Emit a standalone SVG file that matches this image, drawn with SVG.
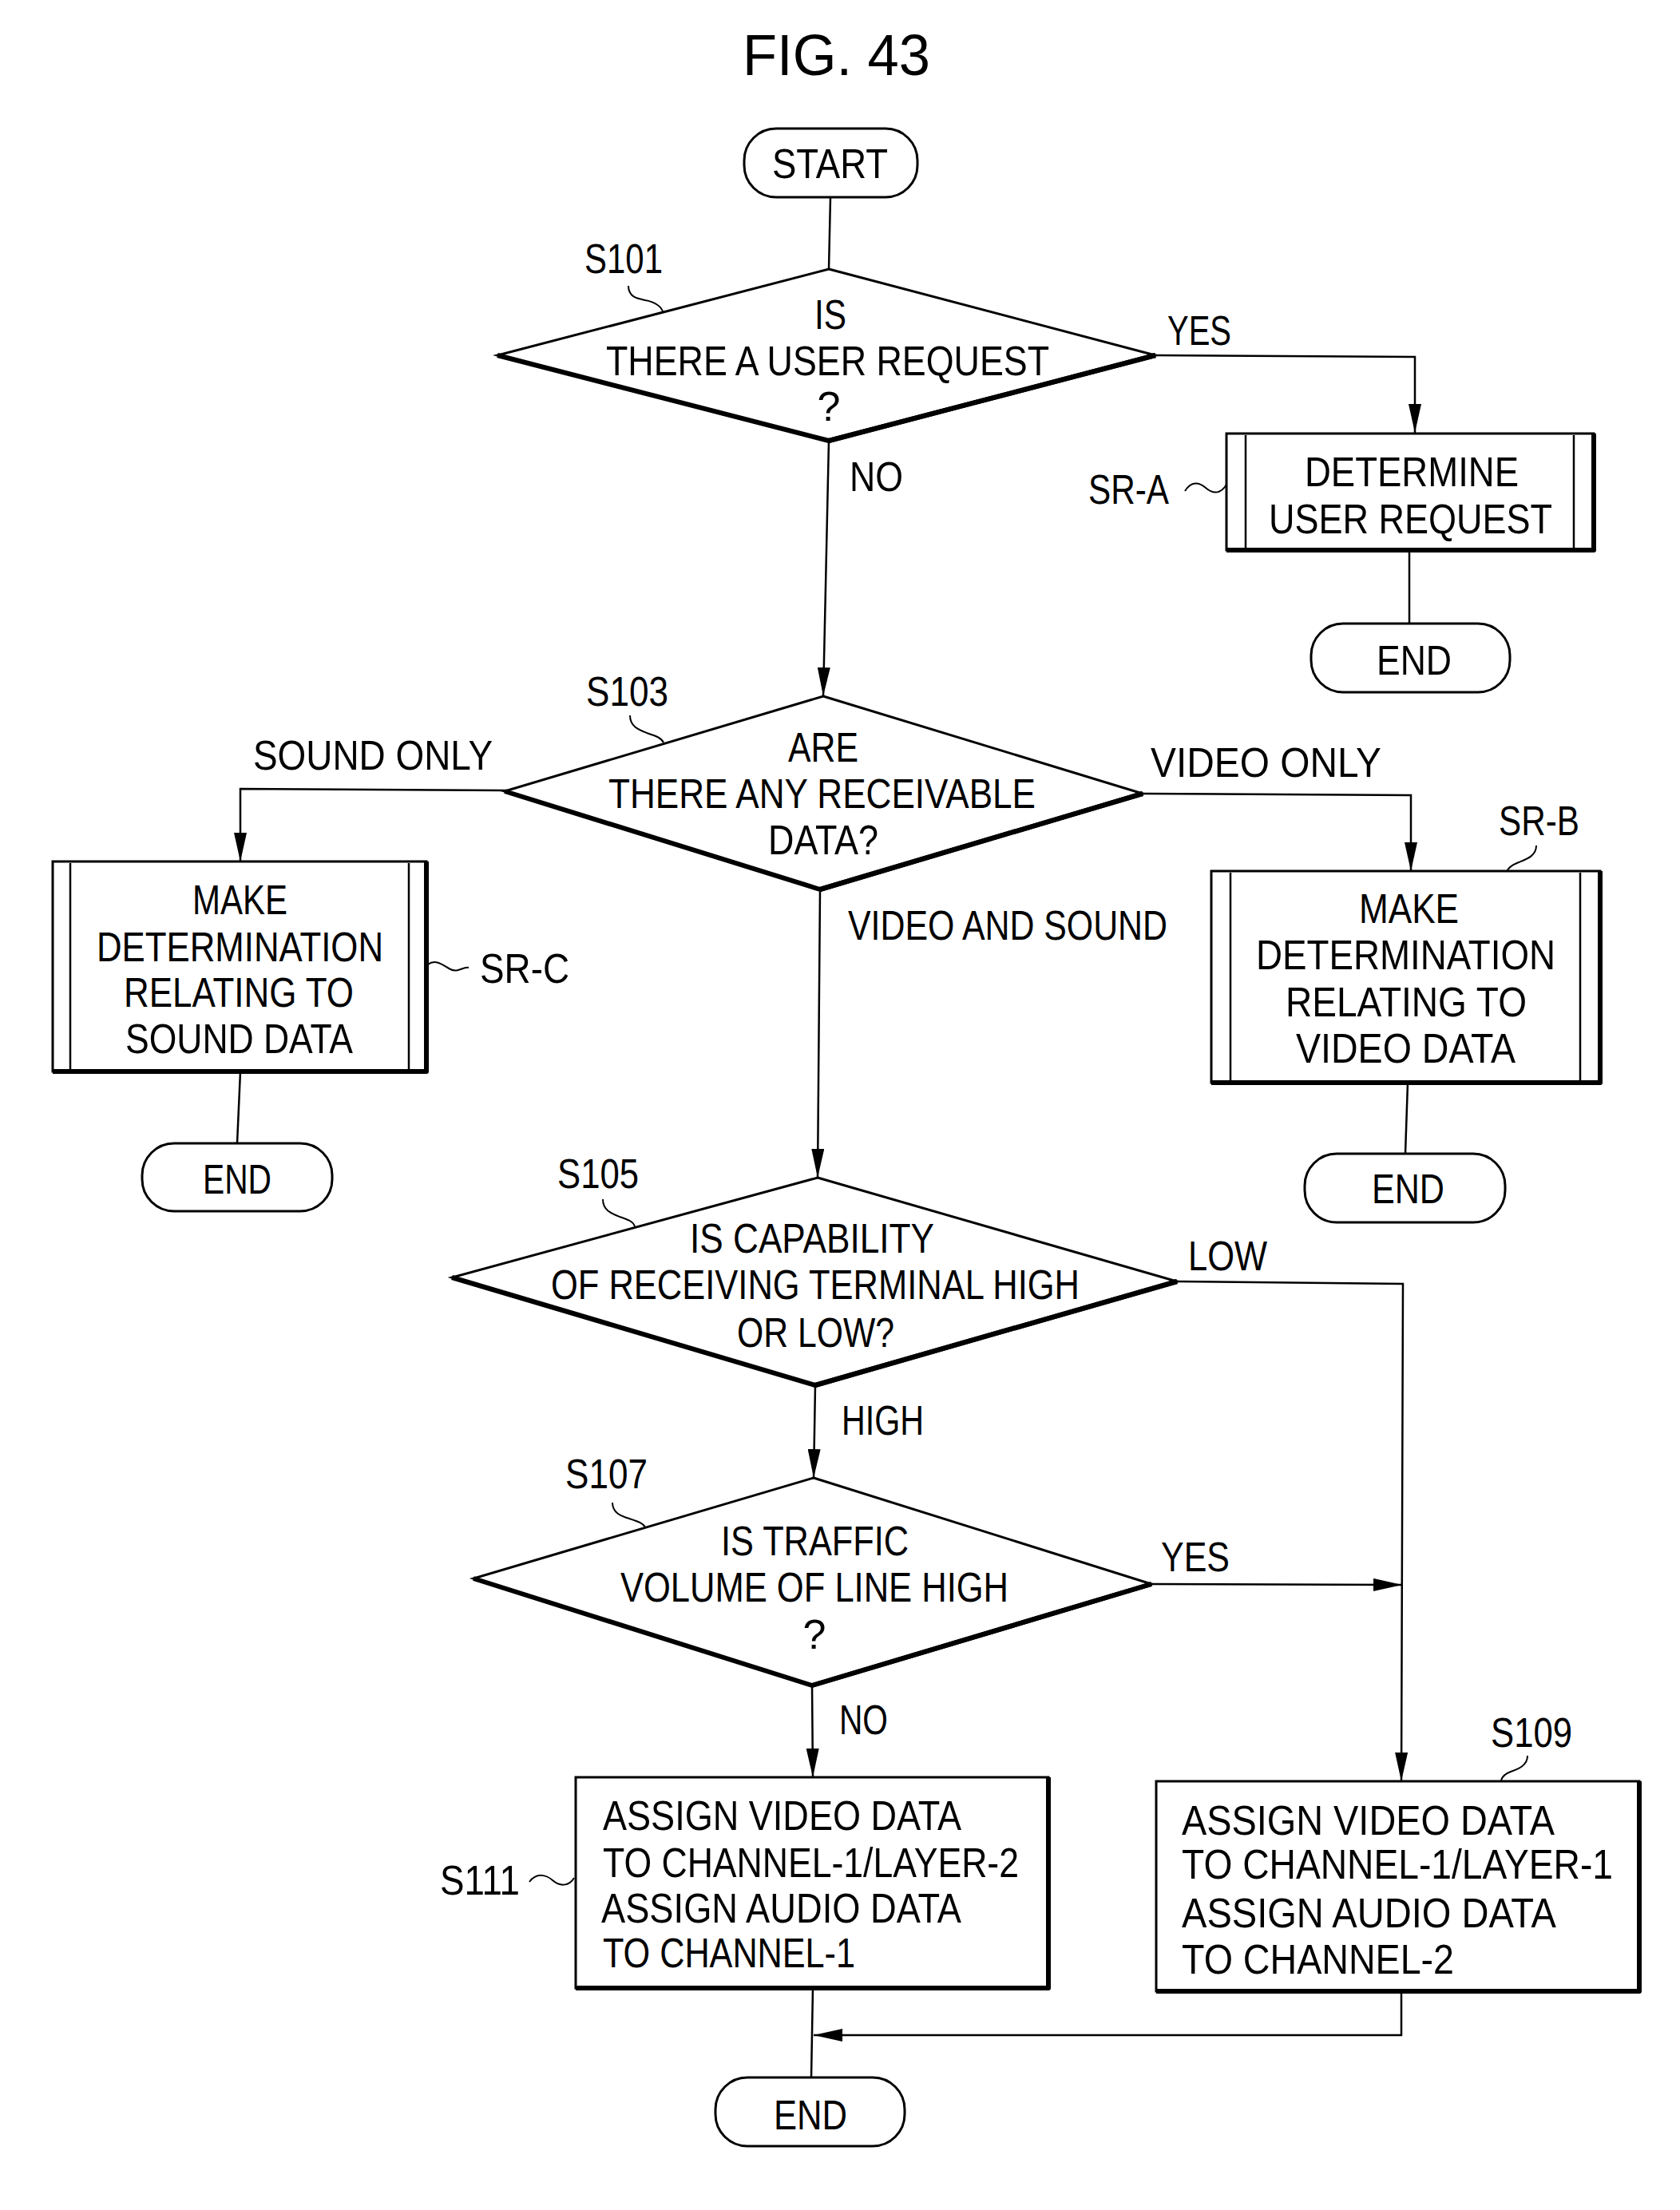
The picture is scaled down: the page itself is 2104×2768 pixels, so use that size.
<svg xmlns="http://www.w3.org/2000/svg" width="2104" height="2768" viewBox="0 0 2104 2768">
<style>
.t{font-family:"Liberation Sans",Arial,sans-serif;font-size:52px;fill:#000}
.ttl{font-family:"Liberation Sans",Arial,sans-serif;font-size:72px;fill:#000}
.s{fill:#fff;stroke:#000;stroke-width:3}
.sh{fill:none;stroke:#000;stroke-width:6;stroke-linejoin:round}
.in{stroke:#000;stroke-width:2.5}
.c{fill:none;stroke:#000;stroke-width:2.5}
.ld{fill:none;stroke:#000;stroke-width:2}
</style>
<defs>
<marker id="ar" markerUnits="userSpaceOnUse" viewBox="0 0 36 16" refX="36" refY="8" markerWidth="36" markerHeight="16" orient="auto">
<path d="M0,0 L36,8 L0,16 z" fill="#000"/>
</marker>
</defs>
<rect width="2104" height="2768" fill="#fff"/>
<text class="ttl" x="930" y="94" textLength="235" lengthAdjust="spacingAndGlyphs">FIG. 43</text>

<g id="connectors">
<path class="c" d="M1040,247 L1038,337"/>
<path class="c" d="M1447,445 L1772,447 L1772,542" marker-end="url(#ar)"/>
<path class="c" d="M1765,689 L1765,781"/>
<path class="c" d="M1038,552 L1031,872" marker-end="url(#ar)"/>
<path class="c" d="M632,990 L301,988 L301,1079" marker-end="url(#ar)"/>
<path class="c" d="M301,1342 L297,1432"/>
<path class="c" d="M1431,994 L1767,996 L1767,1091" marker-end="url(#ar)"/>
<path class="c" d="M1763,1356 L1760,1445"/>
<path class="c" d="M1027,1114 L1024,1475" marker-end="url(#ar)"/>
<path class="c" d="M1474,1605 L1757,1608 L1755,2231" marker-end="url(#ar)"/>
<path class="c" d="M1021,1735 L1019,1851" marker-end="url(#ar)"/>
<path class="c" d="M1442,1984 L1756,1985" marker-end="url(#ar)"/>
<path class="c" d="M1017,2111 L1018,2226" marker-end="url(#ar)"/>
<path class="c" d="M1755,2494 L1755,2549 L1019,2549" marker-end="url(#ar)"/>
<path class="c" d="M1018,2490 L1016,2602"/>
</g>

<g id="start">
<rect class="s" x="932" y="161" width="217" height="86" rx="40"/>
<text class="t" x="967" y="223" textLength="145" lengthAdjust="spacingAndGlyphs">START</text>
</g>

<g id="s101">
<polygon class="s" points="1038,337 1447,445 1038,552 623,445"/>
<path class="sh" d="M623,445 L1038,552 L1447,445" stroke-width="4"/>
<path class="sh" d="M1038,552 L1447,445"/>
<text class="t" x="1020" y="412" textLength="40" lengthAdjust="spacingAndGlyphs">IS</text>
<text class="t" x="759" y="470" textLength="555" lengthAdjust="spacingAndGlyphs">THERE A USER REQUEST</text>
<text class="t" x="1038" y="527" text-anchor="middle">?</text>
<text class="t" x="732" y="342" textLength="98" lengthAdjust="spacingAndGlyphs">S101</text>
<path class="ld" d="M787,358 C787,372 798,374 808,376 C820,378 828,384 830,390"/>
<text class="t" x="1462" y="432" textLength="80" lengthAdjust="spacingAndGlyphs">YES</text>
<text class="t" x="1064" y="615" textLength="67" lengthAdjust="spacingAndGlyphs">NO</text>
</g>

<g id="sr-a">
<rect class="s" x="1536" y="543" width="460" height="146"/>
<path class="sh" d="M1536,689 L1996,689 L1996,543" stroke-width="5"/>
<line class="in" x1="1560" y1="545" x2="1560" y2="687"/>
<line class="in" x1="1971" y1="545" x2="1971" y2="687"/>
<text class="t" x="1634" y="609" textLength="268" lengthAdjust="spacingAndGlyphs">DETERMINE</text>
<text class="t" x="1589" y="668" textLength="355" lengthAdjust="spacingAndGlyphs">USER REQUEST</text>
<text class="t" x="1363" y="631" textLength="101" lengthAdjust="spacingAndGlyphs">SR-A</text>
<path class="ld" d="M1484,615 C1492,602 1502,604 1510,611 C1518,618 1528,620 1536,607"/>
</g>

<g id="end-a">
<rect class="s" x="1642" y="781" width="249" height="86" rx="40"/>
<text class="t" x="1724" y="845" textLength="94" lengthAdjust="spacingAndGlyphs">END</text>
</g>

<g id="s103">
<polygon class="s" points="1031,872 1431,994 1027,1114 632,991"/>
<path class="sh" d="M632,991 L1027,1114 L1431,994" stroke-width="4"/>
<path class="sh" d="M1027,1114 L1431,994"/>
<text class="t" x="987" y="954" textLength="88" lengthAdjust="spacingAndGlyphs">ARE</text>
<text class="t" x="762" y="1012" textLength="535" lengthAdjust="spacingAndGlyphs">THERE ANY RECEIVABLE</text>
<text class="t" x="962" y="1070" textLength="138" lengthAdjust="spacingAndGlyphs">DATA?</text>
<text class="t" x="734" y="884" textLength="103" lengthAdjust="spacingAndGlyphs">S103</text>
<path class="ld" d="M789,896 C789,910 800,914 810,918 C822,922 828,924 831,930"/>
<text class="t" x="317" y="964" textLength="300" lengthAdjust="spacingAndGlyphs">SOUND ONLY</text>
<text class="t" x="1441" y="973" textLength="289" lengthAdjust="spacingAndGlyphs">VIDEO ONLY</text>
<text class="t" x="1062" y="1177" textLength="400" lengthAdjust="spacingAndGlyphs">VIDEO AND SOUND</text>
</g>

<g id="sr-c">
<rect class="s" x="66" y="1079" width="468" height="263"/>
<path class="sh" d="M66,1342 L534,1342 L534,1079" stroke-width="5"/>
<line class="in" x1="88" y1="1081" x2="88" y2="1340"/>
<line class="in" x1="512" y1="1081" x2="512" y2="1340"/>
<text class="t" x="241" y="1145" textLength="119" lengthAdjust="spacingAndGlyphs">MAKE</text>
<text class="t" x="121" y="1204" textLength="359" lengthAdjust="spacingAndGlyphs">DETERMINATION</text>
<text class="t" x="155" y="1261" textLength="288" lengthAdjust="spacingAndGlyphs">RELATING TO</text>
<text class="t" x="157" y="1319" textLength="285" lengthAdjust="spacingAndGlyphs">SOUND DATA</text>
<text class="t" x="601" y="1231" textLength="112" lengthAdjust="spacingAndGlyphs">SR-C</text>
<path class="ld" d="M536,1208 C546,1200 556,1210 564,1214 C574,1219 580,1210 587,1212"/>
</g>

<g id="end-c">
<rect class="s" x="178" y="1432" width="238" height="85" rx="40"/>
<text class="t" x="254" y="1495" textLength="86" lengthAdjust="spacingAndGlyphs">END</text>
</g>

<g id="sr-b">
<rect class="s" x="1517" y="1091" width="487" height="265"/>
<path class="sh" d="M1517,1356 L2004,1356 L2004,1091" stroke-width="5"/>
<line class="in" x1="1541" y1="1093" x2="1541" y2="1354"/>
<line class="in" x1="1979" y1="1093" x2="1979" y2="1354"/>
<text class="t" x="1702" y="1156" textLength="125" lengthAdjust="spacingAndGlyphs">MAKE</text>
<text class="t" x="1573" y="1214" textLength="375" lengthAdjust="spacingAndGlyphs">DETERMINATION</text>
<text class="t" x="1610" y="1273" textLength="302" lengthAdjust="spacingAndGlyphs">RELATING TO</text>
<text class="t" x="1623" y="1331" textLength="275" lengthAdjust="spacingAndGlyphs">VIDEO DATA</text>
<text class="t" x="1877" y="1046" textLength="101" lengthAdjust="spacingAndGlyphs">SR-B</text>
<path class="ld" d="M1924,1059 C1924,1072 1912,1076 1902,1080 C1892,1084 1888,1088 1887,1092"/>
</g>

<g id="end-b">
<rect class="s" x="1634" y="1445" width="251" height="86" rx="40"/>
<text class="t" x="1718" y="1507" textLength="91" lengthAdjust="spacingAndGlyphs">END</text>
</g>

<g id="s105">
<polygon class="s" points="1024,1475 1474,1605 1021,1735 566,1600"/>
<path class="sh" d="M566,1600 L1021,1735 L1474,1605" stroke-width="4"/>
<path class="sh" d="M1021,1735 L1474,1605"/>
<text class="t" x="864" y="1569" textLength="306" lengthAdjust="spacingAndGlyphs">IS CAPABILITY</text>
<text class="t" x="690" y="1627" textLength="662" lengthAdjust="spacingAndGlyphs">OF RECEIVING TERMINAL HIGH</text>
<text class="t" x="923" y="1687" textLength="197" lengthAdjust="spacingAndGlyphs">OR LOW?</text>
<text class="t" x="698" y="1488" textLength="102" lengthAdjust="spacingAndGlyphs">S105</text>
<path class="ld" d="M755,1502 C755,1516 766,1520 776,1524 C788,1528 793,1530 795,1536"/>
<text class="t" x="1488" y="1591" textLength="99" lengthAdjust="spacingAndGlyphs">LOW</text>
<text class="t" x="1054" y="1797" textLength="103" lengthAdjust="spacingAndGlyphs">HIGH</text>
</g>

<g id="s107">
<polygon class="s" points="1019,1851 1442,1984 1017,2111 593,1977"/>
<path class="sh" d="M593,1977 L1017,2111 L1442,1984" stroke-width="4"/>
<path class="sh" d="M1017,2111 L1442,1984"/>
<text class="t" x="903" y="1948" textLength="235" lengthAdjust="spacingAndGlyphs">IS TRAFFIC</text>
<text class="t" x="777" y="2006" textLength="486" lengthAdjust="spacingAndGlyphs">VOLUME OF LINE HIGH</text>
<text class="t" x="1020" y="2065" text-anchor="middle">?</text>
<text class="t" x="708" y="1864" textLength="103" lengthAdjust="spacingAndGlyphs">S107</text>
<path class="ld" d="M767,1882 C767,1895 778,1899 788,1902 C800,1906 806,1908 808,1913"/>
<text class="t" x="1454" y="1968" textLength="86" lengthAdjust="spacingAndGlyphs">YES</text>
<text class="t" x="1051" y="2172" textLength="61" lengthAdjust="spacingAndGlyphs">NO</text>
</g>

<g id="s111">
<rect class="s" x="721" y="2226" width="592" height="264"/>
<path class="sh" d="M721,2490 L1313,2490 L1313,2226" stroke-width="5"/>
<text class="t" x="755" y="2292" textLength="449" lengthAdjust="spacingAndGlyphs">ASSIGN VIDEO DATA</text>
<text class="t" x="755" y="2351" textLength="521" lengthAdjust="spacingAndGlyphs">TO CHANNEL-1/LAYER-2</text>
<text class="t" x="753" y="2408" textLength="451" lengthAdjust="spacingAndGlyphs">ASSIGN AUDIO DATA</text>
<text class="t" x="755" y="2464" textLength="316" lengthAdjust="spacingAndGlyphs">TO CHANNEL-1</text>
<text class="t" x="551" y="2373" textLength="100" lengthAdjust="spacingAndGlyphs">S111</text>
<path class="ld" d="M663,2357 C672,2345 684,2348 692,2355 C700,2362 712,2364 719,2352"/>
</g>

<g id="s109">
<rect class="s" x="1448" y="2231" width="605" height="263"/>
<path class="sh" d="M1448,2494 L2053,2494 L2053,2231" stroke-width="5"/>
<text class="t" x="1480" y="2298" textLength="467" lengthAdjust="spacingAndGlyphs">ASSIGN VIDEO DATA</text>
<text class="t" x="1480" y="2353" textLength="540" lengthAdjust="spacingAndGlyphs">TO CHANNEL-1/LAYER-1</text>
<text class="t" x="1480" y="2414" textLength="469" lengthAdjust="spacingAndGlyphs">ASSIGN AUDIO DATA</text>
<text class="t" x="1480" y="2472" textLength="341" lengthAdjust="spacingAndGlyphs">TO CHANNEL-2</text>
<text class="t" x="1867" y="2188" textLength="102" lengthAdjust="spacingAndGlyphs">S109</text>
<path class="ld" d="M1913,2199 C1913,2212 1900,2216 1892,2219 C1884,2222 1881,2225 1880,2230"/>
</g>

<g id="end-final">
<rect class="s" x="896" y="2602" width="237" height="86" rx="40"/>
<text class="t" x="969" y="2667" textLength="92" lengthAdjust="spacingAndGlyphs">END</text>
</g>
</svg>
